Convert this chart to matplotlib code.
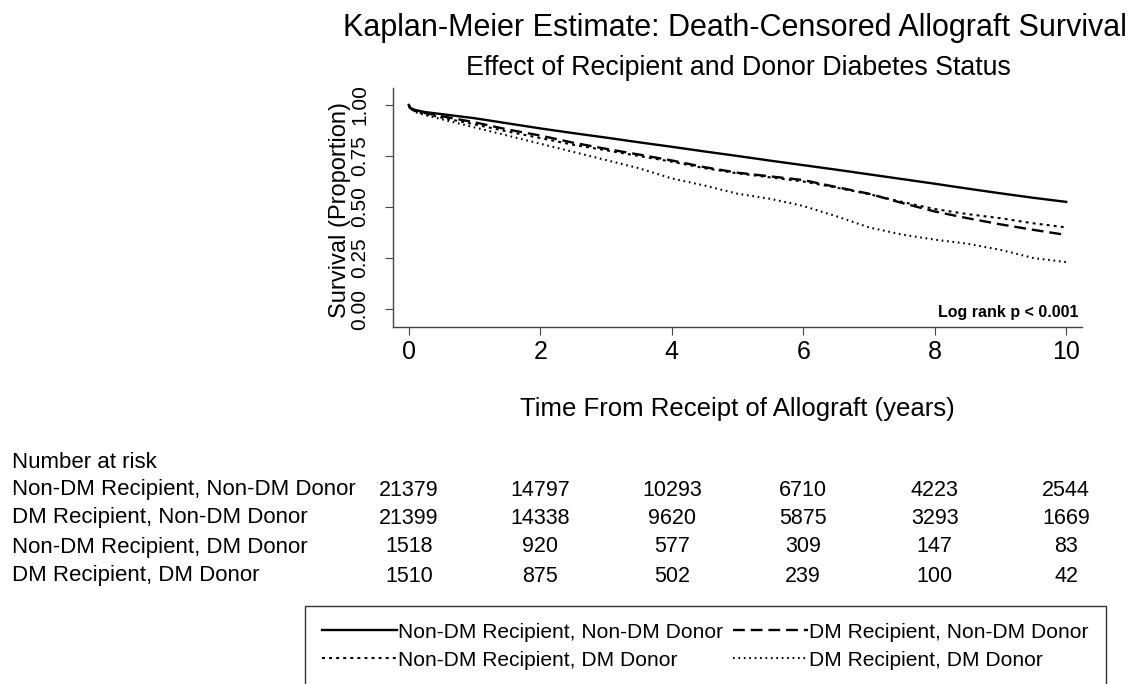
import matplotlib
matplotlib.use("Agg")
import matplotlib.pyplot as plt
import matplotlib.transforms as mtransforms

REG = "Liberation Sans"
plt.rcParams['font.family'] = [REG, 'DejaVu Sans']

# ---- data ----
title = "Kaplan-Meier Estimate: Death-Censored Allograft Survival"
subtitle = "Effect of Recipient and Donor Diabetes Status"
groups = ["Non-DM Recipient, Non-DM Donor", "DM Recipient, Non-DM Donor",
          "Non-DM Recipient, DM Donor", "DM Recipient, DM Donor"]
times = [0, 0.02, 0.1, 0.25, 0.5, 1, 1.5, 2, 2.5, 3, 3.5, 4, 4.5, 5, 5.5, 6,
         6.5, 7, 7.5, 8, 8.5, 9, 9.5, 10]
surv_nn = [1.0, 0.985, 0.975, 0.965, 0.955, 0.935, 0.91, 0.885, 0.862, 0.84,
           0.817, 0.795, 0.772, 0.75, 0.727, 0.705, 0.683, 0.66, 0.637, 0.614,
           0.59, 0.567, 0.545, 0.525]
surv_dn = [1.0, 0.985, 0.972, 0.96, 0.945, 0.915, 0.88, 0.85, 0.815, 0.785,
           0.757, 0.728, 0.695, 0.668, 0.65, 0.632, 0.598, 0.565, 0.52, 0.478,
           0.445, 0.415, 0.388, 0.363]
surv_nd = [1.0, 0.983, 0.968, 0.955, 0.938, 0.905, 0.87, 0.838, 0.805, 0.778,
           0.75, 0.722, 0.69, 0.665, 0.645, 0.625, 0.595, 0.563, 0.525, 0.49,
           0.465, 0.445, 0.42, 0.40]
surv_dd = [1.0, 0.983, 0.965, 0.95, 0.93, 0.89, 0.85, 0.81, 0.77, 0.73, 0.69,
           0.64, 0.605, 0.565, 0.54, 0.505, 0.455, 0.40, 0.365, 0.34, 0.32,
           0.29, 0.25, 0.23]
risk_times = [0, 2, 4, 6, 8, 10]
risk_nn = [21379, 14797, 10293, 6710, 4223, 2544]
risk_dn = [21399, 14338, 9620, 5875, 3293, 1669]
risk_nd = [1518, 920, 577, 309, 147, 83]
risk_dd = [1510, 875, 502, 239, 100, 42]
yticks = [0.0, 0.25, 0.5, 0.75, 1.0]
ytick_labels = ["0.00", "0.25", "0.50", "0.75", "1.00"]

W, H = 1133, 684
fig = plt.figure(figsize=(W / 100, H / 100), dpi=100)
ax = fig.add_axes([393 / W, 1 - 327 / H, (1082 - 393) / W, (327 - 88) / H])

styles = [dict(ls='-', lw=1.7),
          dict(ls=(0, (5, 2.5)), lw=1.7),
          dict(ls=(0, (1.4, 2.0)), lw=1.5),
          dict(ls=(0, (0.8, 1.8)), lw=1.5)]
series = [surv_nn, surv_dn, surv_nd, surv_dd]
lines = []
for lab, s, st in zip(groups, series, styles):
    ln, = ax.plot(times, s, color='black', label=lab, **st)
    lines.append(ln)

ax.set_xlim(-0.24, 10.24)
ax.set_ylim(-0.088, 1.083)
ax.set_xticks(risk_times)
ax.set_xticklabels([str(t) for t in risk_times], fontsize=18)
ax.set_yticks(yticks)
ax.set_yticklabels(ytick_labels, fontsize=15, rotation=90, va='center')
for sp in ['top', 'right']:
    ax.spines[sp].set_visible(False)
for sp in ['left', 'bottom']:
    ax.spines[sp].set_color('#444444')
    ax.spines[sp].set_linewidth(1.0)
ax.tick_params(axis='both', direction='out', length=6, color='#444444')
ax.tick_params(axis='x', pad=3)
ax.tick_params(axis='y', pad=11)
ax.set_ylabel("Survival (Proportion)", fontsize=17)
ax.yaxis.set_label_coords(-0.061, 0.49)
ax.set_xlabel("Time From Receipt of Allograft (years)", fontsize=18.5, labelpad=24)

ax.text(0.995, 0.028, "Log rank p < 0.001", transform=ax.transAxes, ha='right',
        va='bottom', fontsize=11.5, fontweight='bold')

fig.text(735 / W, 1 - 28 / H, title, ha='center', va='center', fontsize=22)
fig.text(738 / W, 1 - 68 / H, subtitle, ha='center', va='center', fontsize=19.3)

# Number at risk table
fig.text(12 / W, 1 - 462 / H, "Number at risk", ha='left', va='center', fontsize=16)
trans = mtransforms.blended_transform_factory(ax.transData, fig.transFigure)
row_y = [490, 518, 547, 576]
for lab, counts, yy in zip(groups, [risk_nn, risk_dn, risk_nd, risk_dd], row_y):
    fig.text(12 / W, 1 - yy / H, lab, ha='left', va='center', fontsize=16)
    for t, c in zip(risk_times, counts):
        ax.text(t, 1 - yy / H, str(c), transform=trans, ha='center', va='center',
                fontsize=15.5, clip_on=False)

order = [0, 2, 1, 3]
leg = fig.legend([lines[i] for i in order], [groups[i] for i in order],
                 loc='upper left', bbox_to_anchor=(305 / W, 1 - 606 / H), ncol=2,
                 frameon=True, fancybox=False, edgecolor='black',
                 prop=dict(size=15.1),
                 handlelength=3.6, handletextpad=0.05, columnspacing=0.45,
                 borderpad=0.8, labelspacing=0.42, borderaxespad=0)
leg.get_frame().set_linewidth(1.0)

fig.savefig("out.png", dpi=100)
